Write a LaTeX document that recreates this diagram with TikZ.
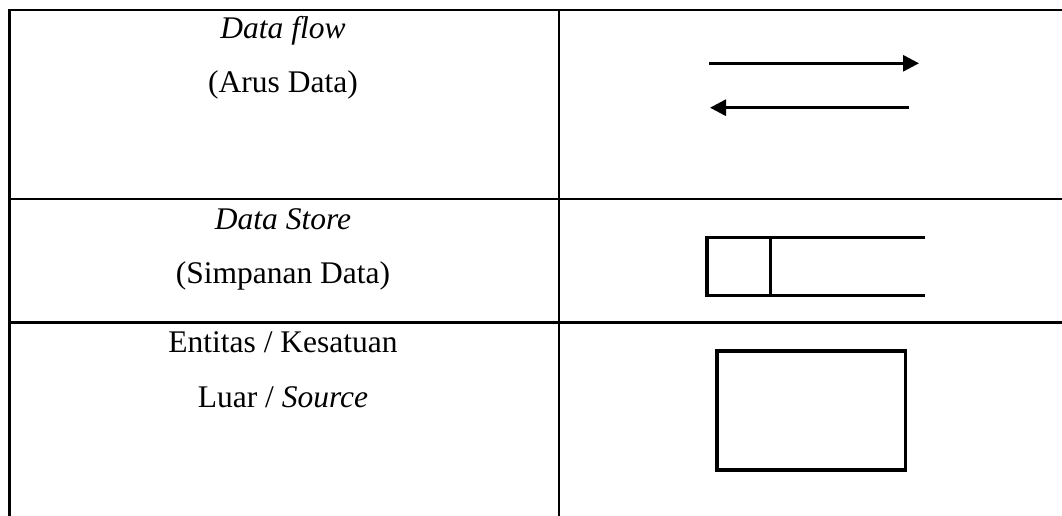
\documentclass[tikz,border=0pt]{standalone}
\usepackage{fontspec}
\setmainfont{Liberation Serif}
\usetikzlibrary{arrows.meta}
\begin{document}
\begin{tikzpicture}[x=1pt,y=-1pt,
  grid/.style={line width=2.3pt},
  lbl/.style={anchor=base,inner sep=0pt,font=\fontsize{31.5}{36}\selectfont},
  flow/.style={line width=3pt,-{Triangle[length=16pt,width=16pt]}},
  sym/.style={line width=3.3pt},
  ent/.style={line width=3.6pt}]
\useasboundingbox (0,0) rectangle (1062,516);
% table grid
\coordinate (tl) at (9.5,10);
\coordinate (tr) at (1075,10);
\coordinate (bl) at (9.5,530);
\coordinate (ct) at (559,10);
\coordinate (cb) at (559,530);
\coordinate (r1l) at (9.5,199.3);
\coordinate (r1r) at (1075,199.3);
\coordinate (r2l) at (9.5,322.5);
\coordinate (r2r) at (1075,322.5);
\draw[grid] (bl) -- (tl) -- (tr);
\draw[grid] (ct) -- (cb);
\draw[grid] (r1l) -- (r1r);
\draw[grid] (r2l) -- (r2r);
% labels
\node[lbl] (t1a) at (283,39) {\itshape Data flow};
\node[lbl] (t1b) at (283,93) {(Arus Data)};
\node[lbl] (t2a) at (283,229) {\itshape Data Store};
\node[lbl] (t2b) at (283,283) {(Simpanan Data)};
\node[lbl] (t3a) at (283,352.7) {Entitas / Kesatuan};
\node[lbl] (t3b) at (283,407.3) {Luar / \itshape Source};
% data flow arrows
\coordinate (a1s) at (709.3,63.3);
\coordinate (a1e) at (919,63.3);
\coordinate (a2s) at (909.3,107.7);
\coordinate (a2e) at (710,107.7);
\draw[flow] (a1s) -- (a1e);
\draw[flow] (a2s) -- (a2e);
% data store
\coordinate (dsa) at (925,237.3);
\coordinate (dsb) at (707,237.3);
\coordinate (dsc) at (707,295.3);
\coordinate (dsd) at (925,295.3);
\coordinate (dse) at (770.7,237.3);
\coordinate (dsf) at (770.7,295.3);
\draw[sym] (dsa) -- (dsb) -- (dsc) -- (dsd);
\draw[sym] (dse) -- (dsf);
% entity
\node[ent,draw,inner sep=0pt,minimum width=188.3pt,minimum height=119pt] (entity) at (811.2,410.5) {};
\end{tikzpicture}
\end{document}
